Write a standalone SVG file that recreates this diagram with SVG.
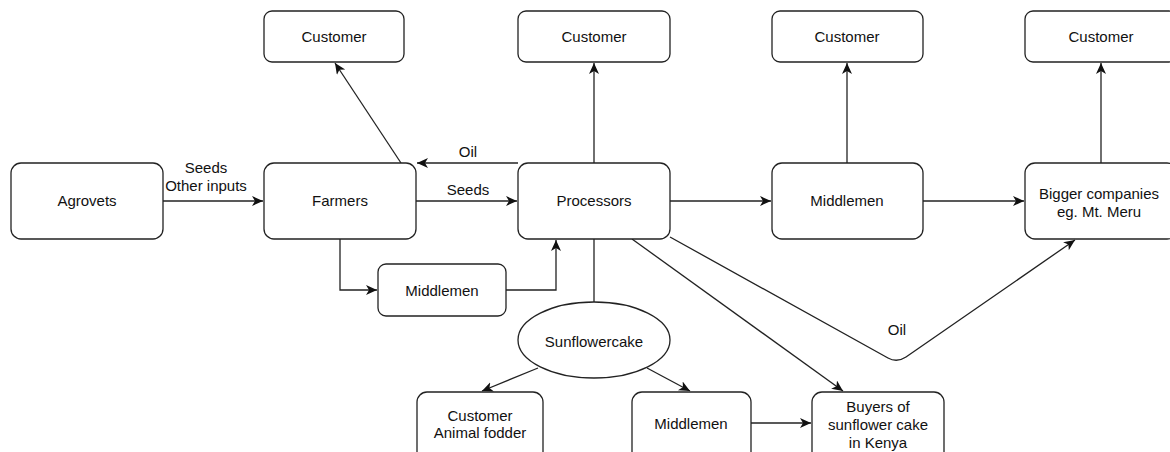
<svg xmlns="http://www.w3.org/2000/svg" width="1170" height="452" viewBox="0 0 1170 452">
<style>
.box{fill:#fff;stroke:#222;stroke-width:1.3}
.t{font-family:"Liberation Sans",Arial,sans-serif;font-size:15px;fill:#111;text-anchor:middle}
.c{fill:none;stroke:#222;stroke-width:1.3}
</style>
<defs>
<marker id="ah" markerUnits="userSpaceOnUse" markerWidth="14" markerHeight="12" refX="11" refY="5" orient="auto">
<path d="M0,0 L11,5 L0,10 L3,5 Z" fill="#111"/>
</marker>
</defs>
<rect width="1170" height="452" fill="#fff"/>
<g id="connectors">
<line class="c" x1="163" y1="201" x2="263" y2="201" marker-end="url(#ah)"/>
<line class="c" x1="416" y1="201" x2="517" y2="201" marker-end="url(#ah)"/>
<line class="c" x1="518" y1="163" x2="417" y2="163" marker-end="url(#ah)"/>
<line class="c" x1="401" y1="163" x2="335" y2="63" marker-end="url(#ah)"/>
<line class="c" x1="594" y1="163" x2="594" y2="63" marker-end="url(#ah)"/>
<line class="c" x1="670" y1="201" x2="771" y2="201" marker-end="url(#ah)"/>
<line class="c" x1="847" y1="163" x2="847" y2="63" marker-end="url(#ah)"/>
<line class="c" x1="923" y1="201" x2="1024" y2="201" marker-end="url(#ah)"/>
<line class="c" x1="1101" y1="163" x2="1101" y2="63" marker-end="url(#ah)"/>
<path class="c" d="M340,239 L340,290 L377,290" marker-end="url(#ah)"/>
<path class="c" d="M506,290 L556,290 L556,240" marker-end="url(#ah)"/>
<line class="c" x1="594" y1="239" x2="594" y2="302"/>
<line class="c" x1="632" y1="239" x2="843" y2="391" marker-end="url(#ah)"/>
<path class="c" d="M670,237 L888,358 Q897,363 906,357 L1075,240" marker-end="url(#ah)"/>
<line class="c" x1="538" y1="368" x2="482" y2="391" marker-end="url(#ah)"/>
<line class="c" x1="647" y1="368" x2="690" y2="391" marker-end="url(#ah)"/>
<line class="c" x1="751" y1="423" x2="811" y2="423" marker-end="url(#ah)"/>
<text class="t" x="206" y="173">Seeds</text>
<text class="t" x="206" y="191">Other inputs</text>
<text class="t" x="468" y="157">Oil</text>
<text class="t" x="468" y="195">Seeds</text>
<text class="t" x="897" y="335">Oil</text>
</g>
<g id="agrovets"><rect class="box" x="11" y="163" width="152" height="76" rx="10"/><text class="t" x="87" y="206">Agrovets</text></g>
<g id="farmers"><rect class="box" x="264" y="163" width="152" height="76" rx="10"/><text class="t" x="340" y="206">Farmers</text></g>
<g id="customer1"><rect class="box" x="264" y="11" width="140" height="51" rx="8"/><text class="t" x="334" y="42">Customer</text></g>
<g id="processors"><rect class="box" x="518" y="163" width="152" height="76" rx="10"/><text class="t" x="594" y="206">Processors</text></g>
<g id="customer2"><rect class="box" x="518" y="11" width="152" height="51" rx="8"/><text class="t" x="594" y="42">Customer</text></g>
<g id="middlemen1"><rect class="box" x="772" y="163" width="151" height="76" rx="10"/><text class="t" x="847" y="206">Middlemen</text></g>
<g id="customer3"><rect class="box" x="772" y="11" width="151" height="51" rx="8"/><text class="t" x="847" y="42">Customer</text></g>
<g id="bigger"><rect class="box" x="1025" y="163" width="152" height="76" rx="10"/><text class="t" x="1099" y="199">Bigger companies</text><text class="t" x="1099" y="217">eg. Mt. Meru</text></g>
<g id="customer4"><rect class="box" x="1025" y="11" width="152" height="51" rx="8"/><text class="t" x="1101" y="42">Customer</text></g>
<g id="middlemen2"><rect class="box" x="378" y="264" width="128" height="52" rx="8"/><text class="t" x="442" y="296">Middlemen</text></g>
<g id="sunflowercake"><ellipse class="box" cx="594" cy="340" rx="76" ry="38"/><text class="t" x="594" y="347">Sunflowercake</text></g>
<g id="customer-fodder"><rect class="box" x="417" y="392" width="126" height="76" rx="10"/><text class="t" x="480" y="421">Customer</text><text class="t" x="480" y="438">Animal fodder</text></g>
<g id="middlemen3"><rect class="box" x="632" y="392" width="119" height="76" rx="10"/><text class="t" x="691" y="429">Middlemen</text></g>
<g id="buyers"><rect class="box" x="812" y="392" width="132" height="76" rx="10"/><text class="t" x="878" y="412">Buyers of</text><text class="t" x="878" y="430">sunflower cake</text><text class="t" x="878" y="448">in Kenya</text></g>
</svg>
